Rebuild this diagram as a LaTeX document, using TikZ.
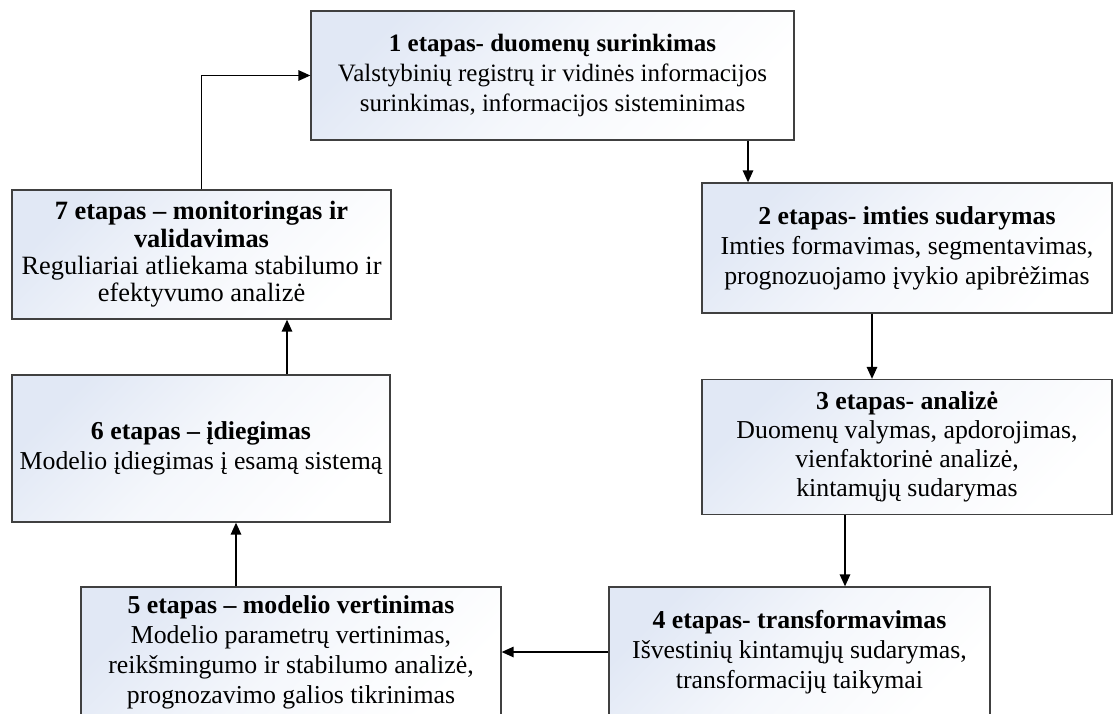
\documentclass[tikz,border=0pt]{standalone}
\usepackage{fontspec}
\setmainfont{Liberation Serif}
\usetikzlibrary{arrows.meta}
\definecolor{boxblue}{HTML}{E1E8F5}
\definecolor{boxline}{HTML}{404040}
\tikzset{
  stagebox/.style={draw=boxline, line width=1.3pt, top color=boxblue,
    bottom color=white, middle color=boxblue!35!white, shading angle=45,
    inner sep=0pt, align=center, font=\fontsize{25.8}{30}\selectfont},
  conn/.style={draw=black, line width=1.4pt,
    -{Triangle[length=12pt,width=10.5pt]}}
}
\begin{document}
\begin{tikzpicture}[x=1pt,y=-1pt]
\clip (0,0) rectangle (1114,713);
\fill[white] (0,0) rectangle (1114,713);

% stages of the cycle
\node[stagebox, minimum width=483pt, minimum height=129pt,
      font=\fontsize{25}{30}\selectfont] (s1) at (552.5,75.5)
  {\textbf{1 etapas- duomenų surinkimas}\\Valstybinių registrų ir vidinės informacijos\\surinkimas, informacijos sisteminimas};
\node[stagebox, minimum width=410pt, minimum height=130pt] (s2) at (907,248)
  {\textbf{2 etapas- imties sudarymas}\\Imties formavimas, segmentavimas,\\prognozuojamo įvykio apibrėžimas};
\node[stagebox, minimum width=410pt, minimum height=135pt,
      font=\fontsize{25.8}{29}\selectfont] (s3) at (907,447)
  {\textbf{3 etapas- analizė}\\Duomenų valymas, apdorojimas,\\vienfaktorinė analizė,\\kintamųjų sudarymas};
\node[stagebox, minimum width=381pt, minimum height=130pt] (s4) at (799.5,652)
  {\textbf{4 etapas- transformavimas}\\Išvestinių kintamųjų sudarymas,\\transformacijų taikymai};
\node[stagebox, minimum width=420pt, minimum height=130pt] (s5) at (291,652)
  {\textbf{5 etapas – modelio vertinimas}\\Modelio parametrų vertinimas,\\reikšmingumo ir stabilumo analizė,\\prognozavimo galios tikrinimas};
\node[stagebox, minimum width=378pt, minimum height=147pt] (s6) at (201,448.5)
  {\textbf{6 etapas – įdiegimas}\\Modelio įdiegimas į esamą sistemą};
\node[stagebox, minimum width=379pt, minimum height=129pt,
      font=\fontsize{26.4}{27.3}\selectfont] (s7) at (201.5,254.5)
  {\textbf{7 etapas – monitoringas ir}\\\textbf{validavimas}\\Reguliariai atliekama stabilumo ir\\efektyvumo analizė};

% columns of the vertical connectors
\coordinate (x12) at (748,0);
\coordinate (x23) at (872,0);
\coordinate (x34) at (845,0);
\coordinate (x56) at (236,0);
\coordinate (x67) at (287,0);

\draw[conn] (s1.south -| x12) -- (s2.north -| x12);
\draw[conn] (s2.south -| x23) -- (s3.north -| x23);
\draw[conn] (s3.south -| x34) -- (s4.north -| x34);
\draw[conn] (s4.west) -- (s5.east);
\draw[conn] (s5.north -| x56) -- (s6.south -| x56);
\draw[conn] (s6.north -| x67) -- (s7.south -| x67);
\draw[conn] (s7.north) |- (s1.west);
\end{tikzpicture}
\end{document}
